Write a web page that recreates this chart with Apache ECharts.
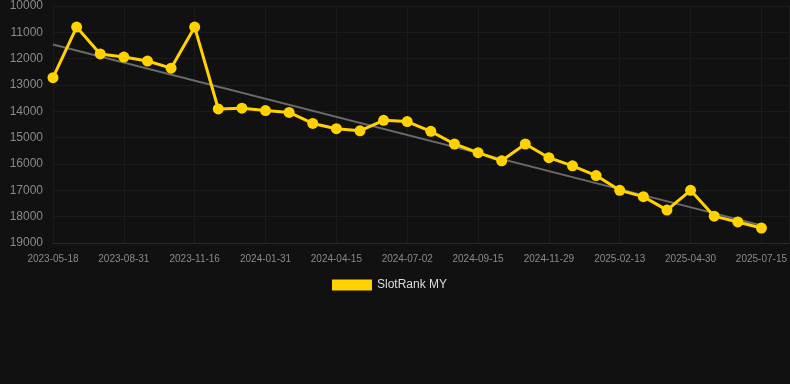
<!DOCTYPE html>
<html>
<head>
<meta charset="utf-8">
<script src="https://cdn.jsdelivr.net/npm/echarts@6/dist/echarts.min.js"></script>
<style>
  html, body { margin: 0; padding: 0; background: #111111; }
  #chart { width: 790px; height: 384px; }
</style>
</head>
<body>
<div id="chart"></div>
<script>
let dates = [
    '2023-05-18', '2023-06-22', '2023-07-27', '2023-08-31', '2023-09-26', '2023-10-21',
    '2023-11-16', '2023-12-11', '2024-01-06', '2024-01-31', '2024-02-25', '2024-03-21',
    '2024-04-15', '2024-05-11', '2024-06-06', '2024-07-02', '2024-07-27', '2024-08-21',
    '2024-09-15', '2024-10-10', '2024-11-04', '2024-11-29', '2024-12-24', '2025-01-19',
    '2025-02-13', '2025-03-10', '2025-04-05', '2025-04-30', '2025-05-25', '2025-06-20',
    '2025-07-15'
];
let rank_values = [
    12720, 10800, 11820, 11940, 12090, 12360, 10800, 13910, 13880, 13970, 14040,
    14460, 14660, 14740, 14340, 14390, 14760, 15240, 15570, 15880, 15240, 15760,
    16070, 16440, 17000, 17240, 17750, 17000, 17980, 18200, 18430
];
// trend line end points (first and last date)
let trend_values = [11460, 18330];

let chart = echarts.init(document.getElementById('chart'));

// x positions are date indexes, so the axis can run a little past the last date
let rank_points = rank_values.map(function (v, i) { return [i, v]; });
let trend_points = [[0, trend_values[0]], [dates.length - 1, trend_values[1]]];

let options = {
    backgroundColor: '#111111',
    animation: false,
    grid: { left: 53, right: 0, top: 6, bottom: 141 },
    legend: {
        bottom: 88,
        left: 327,
        itemWidth: 40,
        itemHeight: 11,
        itemGap: 6,
        textStyle: { color: '#dddddd', fontSize: 12, fontFamily: 'Liberation Sans, Arial, sans-serif' },
        data: [{ name: 'SlotRank MY', icon: 'rect' }]
    },
    xAxis: {
        type: 'value',
        min: 0,
        max: 31.18,
        interval: 3,
        axisLine: { onZero: false, lineStyle: { color: '#2a2a2a' } },
        axisTick: { show: false },
        axisLabel: {
            color: '#8a8a8a',
            fontSize: 10,
            margin: 11,
            showMaxLabel: false,
            fontFamily: 'Liberation Sans, Arial, sans-serif',
            formatter: function (v) { return dates[v] || ''; }
        },
        splitLine: { show: true, lineStyle: { color: '#1c1c1c' } }
    },
    yAxis: {
        type: 'value',
        inverse: true,
        min: 10000,
        max: 19000,
        interval: 1000,
        axisLine: { show: false },
        axisTick: { show: false },
        axisLabel: {
            color: '#8a8a8a',
            fontSize: 12,
            margin: 10,
            fontFamily: 'Liberation Sans, Arial, sans-serif',
            formatter: function (v) { return String(v); }
        },
        splitLine: { lineStyle: { color: '#1c1c1c' } }
    },
    series: [
        {
            name: 'trend',
            type: 'line',
            data: trend_points,
            symbol: 'none',
            lineStyle: { color: '#6a6a6a', width: 2 },
            z: 1
        },
        {
            name: 'SlotRank MY',
            type: 'line',
            data: rank_points,
            color: '#ffd200',
            symbol: 'circle',
            symbolSize: 11,
            lineStyle: { color: '#ffd200', width: 3 },
            itemStyle: { color: '#ffd200' },
            z: 2
        }
    ]
};

chart.setOption(options);
</script>
</body>
</html>
